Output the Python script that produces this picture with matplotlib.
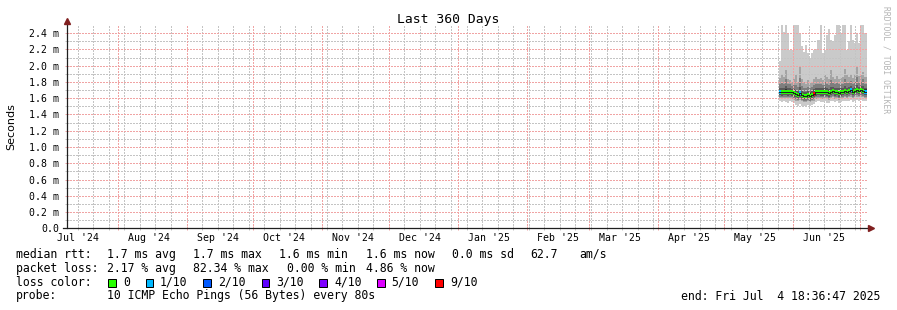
import numpy as np
import pandas as pd
import matplotlib
matplotlib.use("Agg")
import matplotlib.pyplot as plt
from matplotlib.patches import Rectangle

# ---------------- data ----------------
graph_end = pd.Timestamp("2025-07-04 18:36:47")
graph_start = graph_end - pd.Timedelta(days=360)
data_start = pd.Timestamp("2025-05-26 06:00")

median = [1.68, 1.67, 1.68, 1.68, 1.67, 1.68, 1.67, 1.66, 1.65, 1.64,
          1.66, 1.64, 1.63, 1.63, 1.64, 1.63, 1.64, 1.65, 1.67, 1.68,
          1.67, 1.67, 1.68, 1.67, 1.66, 1.68, 1.69, 1.67, 1.68, 1.66,
          1.67, 1.68, 1.69, 1.68, 1.69, 1.70, 1.68, 1.69, 1.70, 1.69,
          1.70, 1.69, 1.68]
loss = [0.5, 0, 0, 0, 0, 0, 0, 0, 0, 0,
        0.6, 0, 0, 0, 0, 0, 0, 8.2, 0, 0,
        0, 0, 0, 0, 0, 0, 0, 0, 0, 0,
        0, 0, 0, 0, 0, 0.4, 0, 0, 0, 0,
        0, 0, 0.7]
ping10 = [2.06, 2.6, 2.42, 2.6, 2.40, 2.19, 2.19, 2.6, 2.6, 2.6,
          2.40, 2.24, 2.17, 2.26, 2.15, 2.09, 2.15, 2.19, 2.21, 2.32,
          2.6, 2.15, 2.19, 2.38, 2.45, 2.32, 2.30, 2.38, 2.6, 2.6,
          2.40, 2.6, 2.6, 2.19, 2.30, 2.6, 2.32, 2.28, 2.40, 2.28,
          2.6, 2.6, 2.40]
ping9 = [1.85, 1.90, 1.86, 1.95, 1.84, 1.82, 1.80, 1.83, 1.88, 1.80,
         1.98, 1.84, 1.80, 1.78, 1.82, 1.79, 1.80, 1.83, 1.86, 1.84,
         1.85, 1.82, 1.88, 1.86, 1.84, 1.95, 1.86, 1.84, 1.87, 1.83,
         1.85, 1.86, 1.96, 1.88, 1.86, 1.90, 1.85, 1.88, 2.00, 1.87,
         1.88, 1.92, 1.86]
ping8 = [1.78, 1.80, 1.77, 1.84, 1.77, 1.77, 1.75, 1.76, 1.76, 1.74,
         1.85, 1.75, 1.73, 1.72, 1.74, 1.73, 1.74, 1.76, 1.78, 1.78,
         1.78, 1.76, 1.80, 1.78, 1.76, 1.82, 1.79, 1.77, 1.79, 1.77,
         1.78, 1.78, 1.84, 1.79, 1.79, 1.81, 1.78, 1.80, 1.86, 1.79,
         1.80, 1.83, 1.78]
ping7 = [1.73, 1.73, 1.72, 1.75, 1.72, 1.73, 1.71, 1.71, 1.70, 1.69,
         1.74, 1.69, 1.68, 1.68, 1.69, 1.68, 1.69, 1.71, 1.72, 1.73,
         1.72, 1.72, 1.74, 1.72, 1.71, 1.74, 1.74, 1.72, 1.73, 1.72,
         1.72, 1.73, 1.75, 1.73, 1.74, 1.75, 1.73, 1.74, 1.76, 1.74,
         1.75, 1.75, 1.73]
ping6 = [1.70, 1.69, 1.70, 1.71, 1.69, 1.70, 1.69, 1.68, 1.67, 1.66,
         1.69, 1.66, 1.65, 1.65, 1.66, 1.66, 1.66, 1.68, 1.69, 1.70,
         1.69, 1.69, 1.70, 1.70, 1.68, 1.70, 1.71, 1.69, 1.70, 1.69,
         1.69, 1.70, 1.71, 1.70, 1.71, 1.72, 1.70, 1.71, 1.72, 1.71,
         1.72, 1.71, 1.71]
ping5 = [1.66, 1.65, 1.66, 1.66, 1.65, 1.66, 1.65, 1.64, 1.63, 1.62,
         1.64, 1.62, 1.61, 1.61, 1.62, 1.61, 1.62, 1.63, 1.65, 1.66,
         1.65, 1.65, 1.66, 1.65, 1.64, 1.66, 1.67, 1.65, 1.66, 1.64,
         1.65, 1.66, 1.67, 1.66, 1.67, 1.68, 1.66, 1.67, 1.68, 1.67,
         1.68, 1.67, 1.66]
ping4 = [1.64, 1.63, 1.64, 1.64, 1.63, 1.64, 1.63, 1.62, 1.61, 1.60,
         1.62, 1.60, 1.59, 1.59, 1.60, 1.59, 1.60, 1.61, 1.63, 1.64,
         1.63, 1.63, 1.64, 1.63, 1.62, 1.64, 1.65, 1.63, 1.64, 1.62,
         1.63, 1.64, 1.65, 1.64, 1.65, 1.66, 1.64, 1.65, 1.66, 1.65,
         1.66, 1.65, 1.64]
ping3 = [1.62, 1.61, 1.62, 1.62, 1.61, 1.62, 1.61, 1.60, 1.59, 1.58,
         1.60, 1.58, 1.57, 1.57, 1.58, 1.57, 1.58, 1.59, 1.61, 1.62,
         1.61, 1.61, 1.62, 1.61, 1.60, 1.62, 1.63, 1.61, 1.62, 1.60,
         1.61, 1.62, 1.63, 1.62, 1.63, 1.64, 1.62, 1.63, 1.64, 1.63,
         1.64, 1.63, 1.62]
ping2 = [1.60, 1.59, 1.60, 1.60, 1.59, 1.60, 1.59, 1.58, 1.57, 1.56,
         1.58, 1.56, 1.55, 1.55, 1.56, 1.55, 1.56, 1.57, 1.59, 1.60,
         1.59, 1.59, 1.60, 1.59, 1.58, 1.60, 1.61, 1.59, 1.60, 1.58,
         1.59, 1.60, 1.61, 1.60, 1.61, 1.62, 1.60, 1.61, 1.62, 1.61,
         1.62, 1.61, 1.60]
ping1 = [1.56, 1.55, 1.56, 1.55, 1.54, 1.56, 1.55, 1.54, 1.52, 1.51,
         1.53, 1.51, 1.50, 1.51, 1.52, 1.50, 1.52, 1.53, 1.55, 1.56,
         1.55, 1.55, 1.56, 1.54, 1.54, 1.56, 1.57, 1.55, 1.56, 1.54,
         1.55, 1.56, 1.57, 1.56, 1.57, 1.58, 1.55, 1.57, 1.58, 1.57,
         1.58, 1.57, 1.56]

loss_keys = [0, 1, 2, 3, 4, 5, 9]
loss_labels = ["0", "1/10", "2/10", "3/10", "4/10", "5/10", "9/10"]
loss_colors = ["#26ff00", "#00b8ff", "#0059ff", "#5e00ff", "#7e00ff", "#dd00ff", "#ff0000"]

legend_rtt = [("median rtt:", 16), ("1.7 ms avg", 107.3), ("1.7 ms max", 193.3),
              ("1.6 ms min", 279.3), ("1.6 ms now", 365.7), ("0.0 ms sd", 451.7),
              ("62.7", 530), ("am/s", 579.3)]
legend_loss = [("packet loss:", 16), ("2.17 % avg", 107.3), ("82.34 % max", 193.3),
               ("0.00 % min", 286.7), ("4.86 % now", 365.7)]
probe_text = "10 ICMP Echo Pings (56 Bytes) every 80s"
end_text = "end: Fri Jul  4 18:36:47 2025"
title = "Last 360 Days"
ylabel = "Seconds"
watermark = "RRDTOOL / TOBI OETIKER"

# ---------------- figure ----------------
W, H = 897, 310
fig = plt.figure(figsize=(W / 100, H / 100), dpi=100, facecolor="white")
MONO = "DejaVu Sans Mono"

ax_l, ax_r, ax_t, ax_b = 66.5, 866.5, 25, 228.3
ax = fig.add_axes([ax_l / W, 1 - ax_b / H, (ax_r - ax_l) / W, (ax_b - ax_t) / H])
ax.set_facecolor("white")

n = len(median)
edges = pd.date_range(data_start, graph_end, periods=n + 1)

def ext(a):
    a = np.asarray(a, dtype=float)
    return np.append(a, a[-1])

pings = [ping1, ping2, ping3, ping4, ping5, ping6, ping7, ping8, ping9, ping10]
half = 5
for ib in range(1, half + 1):
    it = 11 - ib
    c = int(190 / half * (half - ib)) + 50
    col = "#%02x%02x%02x" % (c, c, c)
    ax.fill_between(edges, ext(pings[ib - 1]), ext(pings[it - 1]), step="post",
                    color=col, linewidth=0, zorder=1)

# median coloured by loss
def loss_color(l):
    for k, c in zip(loss_keys, loss_colors):
        if l <= k:
            return c
    return loss_colors[-1]

px_per_ms = (ax_b - ax_t) / 2.5
sw = 2.0 / px_per_ms
widths = (edges[1:] - edges[:-1])
cols = [loss_color(l) for l in loss]
med = np.asarray(median)
ax.bar(edges[:-1], 2 * sw, width=widths, bottom=med - sw, align="edge",
       color=cols, linewidth=0, zorder=4)
ax.step(edges, ext(median), where="post", color="#202020", lw=0.6, zorder=5,
        antialiased=False)

ax.set_xlim(graph_start, graph_end)
ax.set_ylim(0, 2.5)

# grid
mgrid = "#f0a4a4"
grid = "#c4c4c4"
dots = (0, (1, 1))
gkw = dict(lw=1.0, ls=dots, antialiased=False, snap=True)
months = pd.date_range(graph_start, graph_end, freq="MS")
sundays = pd.date_range(graph_start, graph_end, freq="W-SUN")
for d in sundays:
    if d not in months:
        ax.axvline(d, color=grid, zorder=2, **gkw)
for d in months:
    ax.axvline(d, color=mgrid, zorder=3, **gkw)
yminor = np.arange(0.1, 2.5, 0.2)
ymajor = np.arange(0.2, 2.45, 0.2)
for v in yminor:
    ax.axhline(v, color=grid, zorder=2, **gkw)
for v in ymajor:
    ax.axhline(v, color=mgrid, zorder=3, **gkw)

for s in ax.spines.values():
    s.set_visible(False)

# ticks
ax.set_xticks(months)
ax.set_xticks(sundays, minor=True)
ax.tick_params(axis="x", which="major", direction="inout", length=2.9, width=0.72,
               color=mgrid, labelbottom=False)
ax.tick_params(axis="x", which="minor", direction="inout", length=2.9, width=0.72,
               color=grid)
yt = np.arange(0, 2.45, 0.2)
ax.set_yticks(yt)
ax.set_yticklabels(["0.0" if abs(v) < 1e-9 else f"{v:.1f} m" for v in yt],
                   fontfamily=MONO, fontsize=7.15)
ax.set_yticks(yminor, minor=True)
ax.tick_params(axis="y", which="major", direction="inout", length=2.9, width=0.72,
               color=mgrid, pad=3.6)
ax.tick_params(axis="y", which="minor", direction="inout", length=2.9, width=0.72,
               color=grid)

# month labels at mid-month
mids = months.insert(0, graph_start.to_period("M").to_timestamp()) + pd.Timedelta(days=14)
for d in mids:
    if graph_start <= d <= graph_end:
        ax.text(d, -9.6 / (ax_b - ax_t), d.strftime("%b '%y"), transform=ax.get_xaxis_transform(),
                ha="center", va="center", fontfamily=MONO, fontsize=7.15, color="black")

# axes lines + arrows
axis_col = "#1f1f1f"
arrow_col = "#801f1f"
ax.plot([-4 / 800, 1 + 3 / 800], [0, 0], transform=ax.transAxes, color=axis_col,
        lw=0.9, clip_on=False, zorder=6)
ax.plot([0, 0], [0, 1 + 2.5 / 203.3], transform=ax.transAxes, color=axis_col,
        lw=0.9, clip_on=False, zorder=6)
ax.plot([1 + 4.5 / 800], [0], marker=">", ms=4.5, color=arrow_col, transform=ax.transAxes,
        clip_on=False, zorder=7)
ax.plot([0], [1 + 3.5 / 203.3], marker="^", ms=4.5, color=arrow_col, transform=ax.transAxes,
        clip_on=False, zorder=7)

# title, label, watermark
fig.text(448 / W, 1 - 19 / H, title, ha="center", va="center", fontfamily=MONO,
         fontsize=9.4, color="black")
fig.text(11 / W, 1 - 127 / H, ylabel, ha="center", va="center", rotation=90,
         fontfamily="DejaVu Sans", fontsize=8.0, color="black")
fig.text(886 / W, 1 - 60 / H, watermark, ha="center", va="center", rotation=-90,
         fontfamily=MONO, fontsize=5.8, color="#b4b4b4")

# legend
FS = 8.3
def ltext(x, y, s, ha="left"):
    fig.text(x / W, 1 - y / H, s, ha=ha, va="center", fontfamily=MONO, fontsize=FS,
             color="black")

for s, x in legend_rtt:
    ltext(x, 254.3, s)
for s, x in legend_loss:
    ltext(x, 268.3, s)
ltext(16, 282.3, "loss color:")
box_x = [108.3, 145.7, 203.3, 261.7, 319.3, 377.3, 435.0]
lab_x = [123.3, 160.0, 218.3, 276.0, 334.0, 391.7, 450.0]
for bx, lx, c, lab in zip(box_x, lab_x, loss_colors, loss_labels):
    fig.patches.append(Rectangle((bx / W, 1 - 286.5 / H), 7.5 / W, 8 / H,
                                 transform=fig.transFigure, facecolor=c,
                                 edgecolor="black", linewidth=0.72))
    ltext(lx, 282.3, lab)
ltext(16, 296, "probe:")
ltext(107.3, 296, probe_text)
ltext(880, 296, end_text, ha="right")

fig.savefig("out.png", dpi=100, facecolor="white")
